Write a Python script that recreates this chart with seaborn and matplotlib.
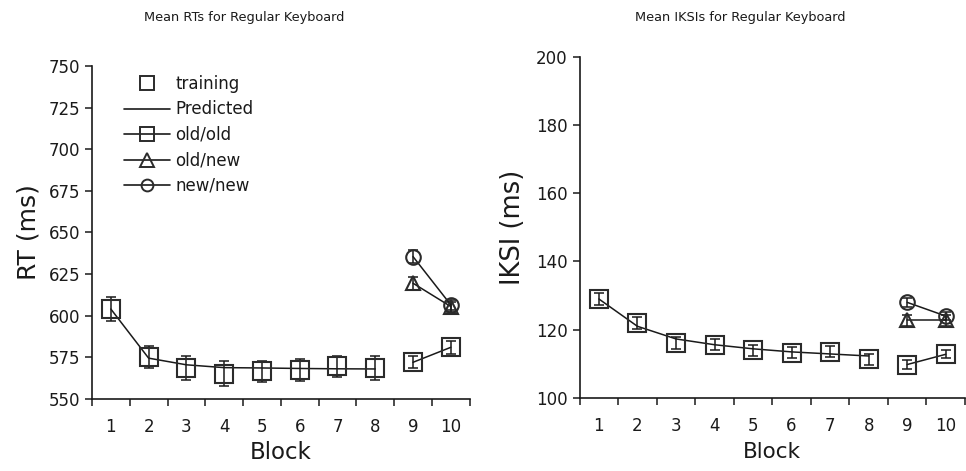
import numpy as np
import pandas as pd
import matplotlib
matplotlib.use("Agg")
import matplotlib.pyplot as plt
from matplotlib.lines import Line2D
import seaborn as sns

sns.set_theme(style="white")
plt.rcParams['font.family'] = ['DejaVu Sans']

# ---- data -------------------------------------------------------------
blocks = ["1", "2", "3", "4", "5", "6", "7", "8", "9", "10"]

# Mean RTs (ms)
rt_training = [604, 575, 568.5, 565, 566.5, 567.5, 569.5, 568.5]
rt_training_err = [7, 6.5, 7, 7.5, 6.5, 6.5, 6.5, 7]
rt_predicted = [604, 574.5, 570.5, 568.8, 568.6, 568.3, 568.1, 568.0]
rt_oldold = [572, 581]
rt_oldold_err = [3.5, 4]
rt_oldnew = [619.5, 605.5]
rt_oldnew_err = [4, 3]
rt_newnew = [635.5, 606.5]
rt_newnew_err = [4, 3]

# Mean IKSIs (ms)
iksi_training = [129.0, 122.0, 116.1, 115.6, 114.0, 113.2, 113.6, 111.4]
iksi_training_err = [1.8, 1.8, 1.8, 1.6, 1.6, 1.6, 1.6, 1.6]
iksi_predicted = [129.0, 121.0, 117.3, 115.6, 114.4, 113.5, 112.9, 112.3]
iksi_oldold = [109.8, 112.8]
iksi_oldold_err = [1.2, 1.2]
iksi_oldnew = [122.7, 122.7]
iksi_oldnew_err = [1.5, 1.5]
iksi_newnew = [128.0, 124.0]
iksi_newnew_err = [1.4, 1.2]

INK = "#1a1a1a"
MK = "#2b2b2b"

fig = plt.figure(figsize=(9.66, 4.71), dpi=100)
ax1 = fig.add_axes([0.0952, 0.153, 0.391, 0.707])
ax2 = fig.add_axes([0.600, 0.155, 0.399, 0.725])


def draw_panel(ax, train, train_err, pred, oo, oo_err, on, on_err, nn, nn_err):
    x_train = np.arange(len(train))
    x_test = np.array([8, 9])

    # fitted curve through training blocks
    sns.lineplot(x=x_train, y=pred, ax=ax, color=INK, lw=1.1, sort=False,
                 estimator=None)
    # test-phase connecting lines
    for vals in (oo, on, nn):
        sns.lineplot(x=x_test, y=vals, ax=ax, color=INK, lw=1.1,
                     estimator=None)

    ms_sq = 13
    specs = [
        (x_train, train, train_err, "s", ms_sq),
        (x_test, oo, oo_err, "s", ms_sq),
        (x_test, on, on_err, "^", 10.5),
        (x_test, nn, nn_err, "o", 10.5),
    ]
    for xs, ys, es, m, ms in specs:
        ax.errorbar(xs, ys, yerr=es, fmt="none", ecolor=INK, elinewidth=1.1,
                    capsize=3.5, capthick=1.1, zorder=3)
        ax.plot(xs, ys, ls="none", marker=m, ms=ms, mfc="none", mec=MK,
                mew=1.5, zorder=4)

    ax.set_xlim(-0.5, 9.5)
    ax.set_xticks(np.arange(10))
    ax.set_xticklabels(blocks)
    ax.set_xticks(np.arange(-0.5, 10, 1), minor=True)
    ax.tick_params(axis="x", which="major", length=0, pad=14, labelsize=12,
                   colors=INK)
    ax.tick_params(axis="x", which="minor", length=5, width=1.1,
                   direction="out", bottom=True, color=INK)
    ax.tick_params(axis="y", which="major", length=5, width=1.1,
                   direction="out", left=True, labelsize=12, colors=INK)
    for side in ("top", "right"):
        ax.spines[side].set_visible(False)
    for side in ("left", "bottom"):
        ax.spines[side].set_color(INK)
        ax.spines[side].set_linewidth(1.2)


draw_panel(ax1, rt_training, rt_training_err, rt_predicted,
           rt_oldold, rt_oldold_err, rt_oldnew, rt_oldnew_err,
           rt_newnew, rt_newnew_err)
ax1.set_ylim(550, 750)
ax1.set_yticks(np.arange(550, 751, 25))
ax1.set_ylabel("RT (ms)", fontsize=18, color=INK, labelpad=6)
ax1.set_xlabel("Block", fontsize=16.5, color=INK, labelpad=3)

draw_panel(ax2, iksi_training, iksi_training_err, iksi_predicted,
           iksi_oldold, iksi_oldold_err, iksi_oldnew, iksi_oldnew_err,
           iksi_newnew, iksi_newnew_err)
ax2.set_ylim(100, 200)
ax2.set_yticks(np.arange(100, 201, 20))
ax2.set_ylabel("IKSI (ms)", fontsize=18.5, color=INK, labelpad=7)
ax2.set_xlabel("Block", fontsize=15.5, color=INK, labelpad=5)

fig.text(0.253, 0.962, "Mean RTs for Regular Keyboard", ha="center",
         va="center", fontsize=9.3, color=INK)
fig.text(0.766, 0.962, "Mean IKSIs for Regular Keyboard", ha="center",
         va="center", fontsize=9.3, color=INK)

handles = [
    Line2D([], [], ls="none", marker="s", ms=9.5, mfc="none", mec=MK, mew=1.4),
    Line2D([], [], color=INK, lw=1.2),
    Line2D([], [], color=INK, lw=1.2, marker="s", ms=9.5, mfc="none", mec=MK, mew=1.4),
    Line2D([], [], color=INK, lw=1.2, marker="^", ms=9.5, mfc="none", mec=MK, mew=1.4),
    Line2D([], [], color=INK, lw=1.2, marker="o", ms=8.5, mfc="none", mec=MK, mew=1.4),
]
labels = ["training", "Predicted", "old/old", "old/new", "new/new"]
ax1.legend(handles, labels, loc="upper left", bbox_to_anchor=(0.066, 0.993),
           frameon=False, fontsize=12, handlelength=2.8, handletextpad=0.3,
           labelspacing=0.45, borderaxespad=0.0, labelcolor=INK)

fig.savefig("out.png", dpi=100)
